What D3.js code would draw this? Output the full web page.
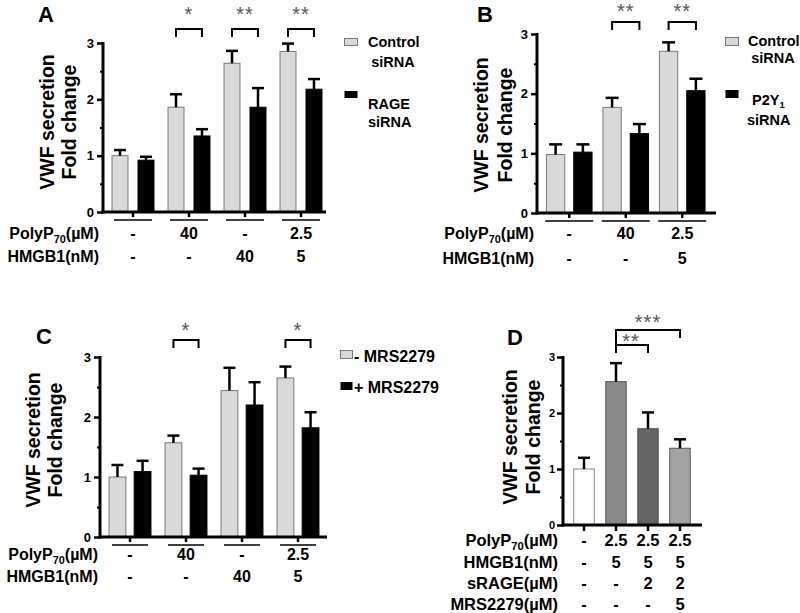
<!DOCTYPE html>
<html><head><meta charset="utf-8">
<script src="https://cdn.jsdelivr.net/npm/d3@7"></script>
<style>
body{margin:0;background:#fff}
text{font-family:"Liberation Sans",Arial,sans-serif;font-weight:bold;fill:#000}
</style>
</head><body>
<svg id="c" width="800" height="613"></svg>
<script>
// ---------- DATA ----------
const yTicks = [0, 1, 2, 3];
const yMinor = [0.5, 1.5, 2.5];

// Panel A
const polyA = ["-", "40", "-", "2.5"];
const hmgbA = ["-", "-", "40", "5"];
const ctrlA = [1.0, 1.86, 2.64, 2.85];
const ctrlAErr = [0.1, 0.23, 0.22, 0.14];
const rageA = [0.92, 1.35, 1.86, 2.18];
const rageAErr = [0.06, 0.12, 0.34, 0.18];
const starsA = ["", "*", "**", "**"];
const legendA = [["Control", "siRNA"], ["RAGE", "siRNA"]];

// Panel B
const polyB = ["-", "40", "2.5"];
const hmgbB = ["-", "-", "5"];
const ctrlB = [0.98, 1.77, 2.71];
const ctrlBErr = [0.17, 0.16, 0.15];
const p2yB = [1.02, 1.33, 2.05];
const p2yBErr = [0.13, 0.16, 0.2];
const starsB = ["", "**", "**"];

// Panel C
const polyC = ["-", "40", "-", "2.5"];
const hmgbC = ["-", "-", "40", "5"];
const minusC = [1.0, 1.57, 2.44, 2.65];
const minusCErr = [0.2, 0.12, 0.38, 0.19];
const plusC = [1.09, 1.03, 2.2, 1.82];
const plusCErr = [0.18, 0.11, 0.38, 0.26];
const starsC = ["", "*", "", "*"];
const legendC = ["- MRS2279", "+ MRS2279"];

// Panel D
const valsD = [1.0, 2.56, 1.72, 1.37];
const errD = [0.2, 0.33, 0.29, 0.16];
const fillD = ["#ffffff", "#8a8a8a", "#646464", "#a4a4a4"];
const rowNamesD = ["PolyP70(µM)", "HMGB1(nM)", "sRAGE(µM)", "MRS2279(µM)"];
const rowsD = [["-", "2.5", "2.5", "2.5"], ["-", "5", "5", "5"], ["-", "-", "2", "2"], ["-", "-", "-", "5"]];

// ---------- DRAWING ----------
const svg = d3.select("#c");
const GRAY = "#d9d9d9";

function polyLabel(g, x, y, anchor, fs) {
  const t = g.append("text").attr("x", x).attr("y", y).attr("text-anchor", anchor).style("font-size", fs + "px");
  t.append("tspan").text("PolyP");
  t.append("tspan").attr("dy", 4).style("font-size", (fs * 0.68) + "px").text("70");
  t.append("tspan").attr("dy", -4).text("(µM)");
}

function axesY(g, y, x0, xEnd, fs, pad) {
  const ax = g.append("g").attr("transform", `translate(${x0},0)`)
    .call(d3.axisLeft(y).tickValues(yTicks).tickSize(6).tickPadding(pad).tickFormat(d3.format("d")));
  ax.select(".domain").remove();
  ax.selectAll(".tick line").attr("stroke", "#000").attr("stroke-width", 2.5);
  ax.selectAll(".tick text").style("font-size", fs + "px").style("font-family", '"Liberation Sans",Arial,sans-serif').style("font-weight", "bold").attr("fill", "#000");
  const mn = g.append("g").attr("transform", `translate(${x0},0)`)
    .call(d3.axisLeft(y).tickValues(yMinor).tickSize(3).tickFormat(""));
  mn.select(".domain").remove();
  mn.selectAll(".tick line").attr("stroke", "#000").attr("stroke-width", 2);
  g.append("line").attr("x1", x0).attr("x2", x0).attr("y1", y(3) - 1).attr("y2", y(0) + 1.5).attr("stroke", "#000").attr("stroke-width", 3);
  g.append("line").attr("x1", x0 - 1.5).attr("x2", xEnd).attr("y1", y(0)).attr("y2", y(0)).attr("stroke", "#000").attr("stroke-width", 3);
}

function errBar(g, cx, yTop, yErr, cap) {
  g.append("line").attr("x1", cx).attr("x2", cx).attr("y1", yTop).attr("y2", yErr).attr("stroke", "#000").attr("stroke-width", 2.5);
  g.append("line").attr("x1", cx - cap / 2).attr("x2", cx + cap / 2).attr("y1", yErr).attr("y2", yErr).attr("stroke", "#000").attr("stroke-width", 2.5);
}

function bracket(g, xa, xb, yTop, yBot, yBotL) {
  g.append("path").attr("d", `M${xa},${yBotL}V${yTop}H${xb}V${yBot}`).attr("fill", "none").attr("stroke", "#000").attr("stroke-width", 2);
}

function stars(g, x, yc, s, fs) {
  g.append("text").attr("x", x).attr("y", yc + fs * 0.58).attr("text-anchor", "middle")
    .style("font-size", fs + "px").style("font-weight", "normal").style("fill", "#555").style("letter-spacing", "1px").text(s);
}

function yLabel(g, xb1, xb2, yc) {
  g.append("text").attr("transform", `translate(${xb1},${yc}) rotate(-90)`).attr("text-anchor", "middle").style("font-size", "19.5px").text("VWF secretion");
  g.append("text").attr("transform", `translate(${xb2},${yc}) rotate(-90)`).attr("text-anchor", "middle").style("font-size", "19.5px").text("Fold change");
}

// Grouped panel (A, B, C)
function groupedPanel(cfg) {
  const g = svg.append("g");
  const y = d3.scaleLinear().domain([0, 3]).range([cfg.y0, cfg.y3]);
  const n = cfg.s1.length;
  const xg = d3.scaleBand().domain(d3.range(n)).range(cfg.xRange).paddingInner(0).paddingOuter(0);
  const xi = d3.scaleBand().domain([0, 1]).range([0, xg.bandwidth()]).paddingInner(cfg.pIn).paddingOuter(cfg.pOut);
  const series = [
    { v: cfg.s1, e: cfg.e1, fill: GRAY, stroke: "#7a7a7a" },
    { v: cfg.s2, e: cfg.e2, fill: "#000", stroke: "#000" }
  ];
  series.forEach((s, si) => {
    s.v.forEach((v, i) => {
      const bx = xg(i) + xi(si);
      g.append("rect").attr("x", bx).attr("y", y(v)).attr("width", xi.bandwidth()).attr("height", y(0) - y(v))
        .attr("fill", s.fill).attr("stroke", s.stroke).attr("stroke-width", 1);
      errBar(g, bx + xi.bandwidth() / 2, y(v), y(v + s.e[i]), cfg.cap);
    });
  });
  axesY(g, y, cfg.x0, cfg.xEnd, 13, 3);
  const xt = g.append("g").attr("transform", `translate(0,${cfg.y0})`)
    .call(d3.axisBottom(xg).tickSize(5).tickFormat(""));
  xt.select(".domain").remove();
  xt.selectAll(".tick line").attr("stroke", "#000").attr("stroke-width", 2.5);
  d3.range(n).forEach(i => {
    const c = xg(i) + xg.bandwidth() / 2;
    g.append("line").attr("x1", c - cfg.ul).attr("x2", c + cfg.ul).attr("y1", cfg.y0 + 8).attr("y2", cfg.y0 + 8).attr("stroke", "#000").attr("stroke-width", 1.5);
    g.append("text").attr("x", c).attr("y", cfg.rowY[0]).attr("text-anchor", "middle").style("font-size", "16px").text(cfg.poly[i]);
    g.append("text").attr("x", c).attr("y", cfg.rowY[1]).attr("text-anchor", "middle").style("font-size", "16px").text(cfg.hmgb[i]);
    if (cfg.stars[i]) {
      const xa = xg(i) + xi(0) + xi.bandwidth() / 2, xb = xg(i) + xi(1) + xi.bandwidth() / 2;
      bracket(g, xa, xb, cfg.brTop, cfg.brTop + 8, cfg.brTop + 8);
      stars(g, (xa + xb) / 2, cfg.starY, cfg.stars[i], 20);
    }
  });
  polyLabel(g, cfg.labX, cfg.rowY[0], "end", 16);
  g.append("text").attr("x", cfg.labX).attr("y", cfg.rowY[1]).attr("text-anchor", "end").style("font-size", "16px").text("HMGB1(nM)");
  yLabel(g, cfg.yl[0], cfg.yl[1], cfg.yl[2]);
  g.append("text").attr("x", cfg.letter[1]).attr("y", cfg.letter[2]).style("font-size", "22px").text(cfg.letter[0]);
  return g;
}

// Panel A
const gA = groupedPanel({
  y0: 212, y3: 43, x0: 103, xEnd: 326, xRange: [105, 329], pIn: 0.385, pOut: 0.27, cap: 12,
  s1: ctrlA, e1: ctrlAErr, s2: rageA, e2: rageAErr, poly: polyA, hmgb: hmgbA, stars: starsA,
  ul: 19, rowY: [239, 262], labX: 99, brTop: 29, starY: 9, yl: [53.5, 76, 122], letter: ["A", 38, 22]
});
gA.append("rect").attr("x", 344.5).attr("y", 38.5).attr("width", 13).attr("height", 7).attr("fill", GRAY).attr("stroke", "#7a7a7a");
gA.append("text").attr("x", 368).attr("y", 47).style("font-size", "14.5px").text(legendA[0][0]);
gA.append("text").attr("x", 393).attr("y", 67).attr("text-anchor", "middle").style("font-size", "14.5px").text(legendA[0][1]);
gA.append("rect").attr("x", 344.5).attr("y", 91).attr("width", 13).attr("height", 7).attr("fill", "#000");
gA.append("text").attr("x", 368).attr("y", 109).style("font-size", "14.5px").text(legendA[1][0]);
gA.append("text").attr("x", 368).attr("y", 127).style("font-size", "14.5px").text(legendA[1][1]);

// Panel B
const gB = groupedPanel({
  y0: 213, y3: 34, x0: 537, xEnd: 716, xRange: [541, 710.5], pIn: 0.33, pOut: 0.2, cap: 13,
  s1: ctrlB, e1: ctrlBErr, s2: p2yB, e2: p2yBErr, poly: polyB, hmgb: hmgbB, stars: starsB,
  ul: 24, rowY: [239, 264], labX: 534, brTop: 22, starY: 6, yl: [488, 511.5, 125], letter: ["B", 477, 22]
});
gB.append("rect").attr("x", 725.5).attr("y", 37.5).attr("width", 13).attr("height", 8).attr("fill", GRAY).attr("stroke", "#7a7a7a");
gB.append("text").attr("x", 748).attr("y", 46).style("font-size", "14.5px").text("Control");
gB.append("text").attr("x", 773).attr("y", 63).attr("text-anchor", "middle").style("font-size", "14.5px").text("siRNA");
gB.append("rect").attr("x", 725.5).attr("y", 90).attr("width", 13).attr("height", 8).attr("fill", "#000");
const p2 = gB.append("text").attr("x", 752).attr("y", 105).style("font-size", "14.5px");
p2.append("tspan").text("P2Y");
p2.append("tspan").attr("dy", 3).style("font-size", "9.5px").text("1");
gB.append("text").attr("x", 747).attr("y", 125).style("font-size", "14.5px").text("siRNA");

// Panel C
const gC = groupedPanel({
  y0: 537, y3: 357, x0: 100, xEnd: 327, xRange: [102, 326], pIn: 0.33, pOut: 0.28, cap: 12,
  s1: minusC, e1: minusCErr, s2: plusC, e2: plusCErr, poly: polyC, hmgb: hmgbC, stars: starsC,
  ul: 18, rowY: [560, 582], labX: 98, brTop: 340, starY: 325, yl: [39.5, 62, 440], letter: ["C", 36, 344]
});
gC.append("rect").attr("x", 340.5).attr("y", 350.5).attr("width", 12).attr("height", 8).attr("fill", GRAY).attr("stroke", "#7a7a7a");
gC.append("text").attr("x", 354).attr("y", 362).style("font-size", "16px").text(legendC[0]);
gC.append("rect").attr("x", 340.5).attr("y", 382).attr("width", 12).attr("height", 8).attr("fill", "#000");
gC.append("text").attr("x", 354).attr("y", 393).style("font-size", "16px").text(legendC[1]);

// Panel D
(function () {
  const g = svg.append("g");
  const y = d3.scaleLinear().domain([0, 3]).range([525, 357]);
  const x = d3.scaleBand().domain(d3.range(valsD.length)).range([568, 696]).paddingInner(0.36).paddingOuter(0.18);
  const cx = i => x(i) + x.bandwidth() / 2;
  valsD.forEach((v, i) => {
    g.append("rect").attr("x", x(i)).attr("y", y(v)).attr("width", x.bandwidth()).attr("height", y(0) - y(v))
      .attr("fill", fillD[i]).attr("stroke", i === 0 ? "#888" : "#555").attr("stroke-width", 1);
    errBar(g, cx(i), y(v), y(v + errD[i]), 12);
  });
  axesY(g, y, 563, 702, 11, 2);
  const xt = g.append("g").attr("transform", `translate(0,525)`).call(d3.axisBottom(x).tickSize(6).tickFormat(""));
  xt.select(".domain").remove();
  xt.selectAll(".tick line").attr("stroke", "#000").attr("stroke-width", 2.5);
  bracket(g, cx(1), cx(3), 330, 338, 353);
  bracket(g, cx(1), cx(2), 345, 353, 353);
  stars(g, (cx(1) + cx(3)) / 2, 317, "***", 20);
  stars(g, (cx(1) + cx(2)) / 2 - 1, 336, "**", 20);
  const rowY = [546, 568, 589, 610];
  rowsD.forEach((row, r) => {
    if (r === 0) polyLabel(g, 558, rowY[r], "end", 16.5);
    else g.append("text").attr("x", 558).attr("y", rowY[r]).attr("text-anchor", "end").style("font-size", "16.5px").text(rowNamesD[r]);
    row.forEach((s, i) => g.append("text").attr("x", cx(i)).attr("y", rowY[r]).attr("text-anchor", "middle").style("font-size", "16.5px").text(s));
  });
  yLabel(g, 516.5, 539.5, 437);
  g.append("text").attr("x", 507).attr("y", 345).style("font-size", "22px").text("D");
})();
</script>
</body></html>
